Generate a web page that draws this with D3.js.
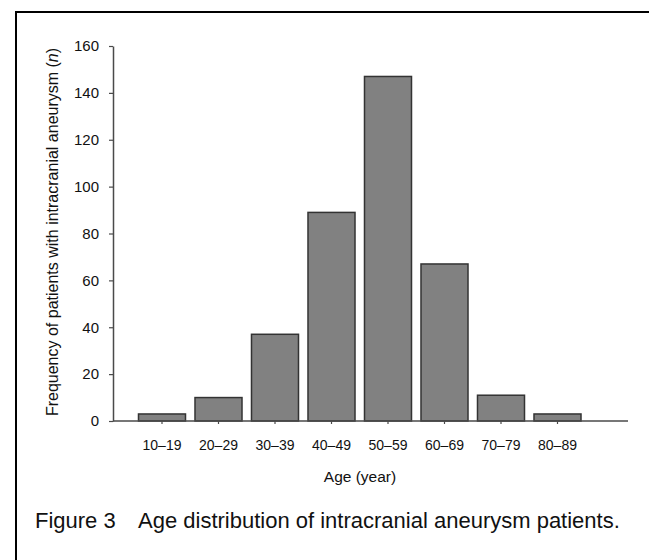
<!DOCTYPE html>
<html>
<head>
<meta charset="utf-8">
<script src="https://cdn.jsdelivr.net/npm/d3@7"></script>
<style>
  html, body { margin: 0; padding: 0; background: #fff; }
  svg { display: block; }
  text { font-family: "Liberation Sans", Arial, sans-serif; fill: #111; }
</style>
</head>
<body>
<svg id="chart" width="649" height="560"></svg>
<script>
const categories = ["10–19", "20–29", "30–39", "40–49", "50–59", "60–69", "70–79", "80–89"];
const frequencies = [3, 10, 37, 89, 147, 67, 11, 3];
const yTicks = [0, 20, 40, 60, 80, 100, 120, 140, 160];
const yTitle = "Frequency of patients with intracranial aneurysm (";
const xTitle = "Age (year)";
const captionLabel = "Figure 3";
const captionText = "Age distribution of intracranial aneurysm patients.";

const svg = d3.select("#chart");
const FONT = '"Liberation Sans", Arial, sans-serif';

// frame
svg.append("path")
  .attr("d", "M16,560 L16,12 L649,12")
  .attr("fill", "none").attr("stroke", "#000").attr("stroke-width", 2);

const axisX0 = 113, axisX1 = 628;
const y = d3.scaleLinear().domain([0, 160]).range([421, 46]);
const x = d3.scaleBand().domain(categories).range([133.75, 585.75]).paddingInner(0.168).paddingOuter(0.084);

const axisColor = "#4a4a4a";

// bars
svg.append("g").selectAll("rect").data(frequencies).join("rect")
  .attr("x", (d, i) => x(categories[i]))
  .attr("y", d => y(d))
  .attr("width", x.bandwidth())
  .attr("height", d => y(0) - y(d))
  .attr("fill", "#818181")
  .attr("stroke", "#333")
  .attr("stroke-width", 1.5);

// y axis
const yAxis = svg.append("g").attr("transform", `translate(${axisX0},0)`)
  .call(d3.axisLeft(y).tickValues(yTicks).tickSize(4).tickPadding(10).tickSizeOuter(0));
yAxis.select(".domain").attr("stroke", axisColor).attr("stroke-width", 1.5);
yAxis.selectAll(".tick line").attr("stroke", axisColor).attr("stroke-width", 1.2);
yAxis.selectAll(".tick text").attr("font-size", 15).attr("fill", "#111").attr("font-family", FONT);

// x axis
const xAxis = svg.append("g").attr("transform", `translate(0,${y(0)})`)
  .call(d3.axisBottom(x).tickSize(3).tickPadding(16).tickSizeOuter(0));
xAxis.select(".domain").attr("d", `M${axisX0},0H${axisX1}`)
  .attr("stroke", axisColor).attr("stroke-width", 1.5);
xAxis.selectAll(".tick line").attr("stroke", axisColor).attr("stroke-width", 1.2);
xAxis.selectAll(".tick text").attr("font-size", 14).attr("fill", "#111").attr("font-family", FONT);

// y title
const yt = svg.append("text")
  .attr("transform", "translate(58,232) rotate(-90)")
  .attr("text-anchor", "middle")
  .attr("font-size", 16);
yt.append("tspan").text(yTitle);
yt.append("tspan").attr("font-style", "italic").text("n");
yt.append("tspan").text(")");

// x title
svg.append("text")
  .attr("x", 360).attr("y", 482)
  .attr("text-anchor", "middle")
  .attr("font-size", 15.5)
  .text(xTitle);

// caption
svg.append("text")
  .attr("x", 35).attr("y", 528)
  .attr("font-size", 22)
  .text(captionLabel);
svg.append("text")
  .attr("x", 138).attr("y", 528)
  .attr("font-size", 22)
  .text(captionText);
</script>
</body>
</html>
